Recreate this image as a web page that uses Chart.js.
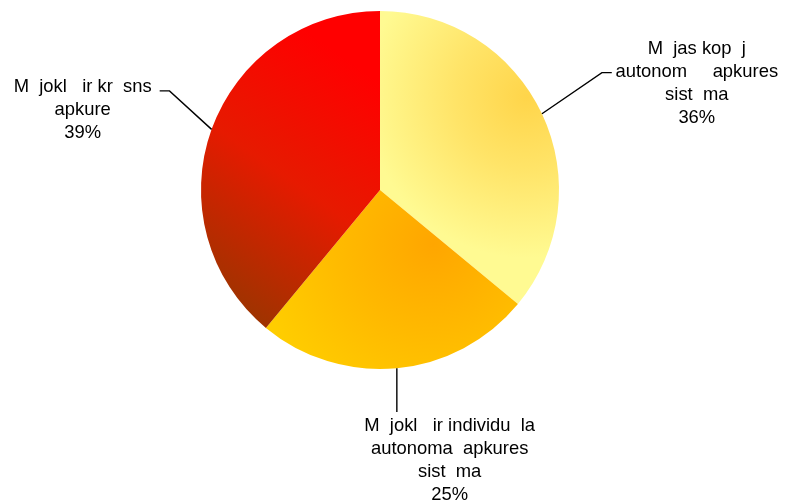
<!DOCTYPE html>
<html>
<head>
<meta charset="utf-8">
<script src="https://cdn.jsdelivr.net/npm/chart.js@4"></script>
<style>
    html, body { margin: 0; padding: 0; background: #fff; }
    #wrap { width: 786px; height: 503px; }
</style>
</head>
<body>
<div id="wrap"><canvas id="pie-chart" width="786" height="503"></canvas></div>
<script>
// --- data ---
const categories = [
    ['M  jas kop  j', 'autonom     apkures', 'sist  ma'],
    ['M  jokl   ir individu  la', 'autonoma  apkures', 'sist  ma'],
    ['M  jokl   ir kr  sns', 'apkure']
];
const shares = [36, 25, 39];
const percentLabels = ['36%', '25%', '39%'];

// gradient stops per slice
const sliceStops = [
    [[0, '#FFD54A'], [0.45, '#FFE468'], [1, '#FFFA92']],
    [[0, '#FFA600'], [0.5, '#FFB900'], [1, '#FFCD00']],
    [[0, '#FF0000'], [0.5, '#E61A00'], [1, '#A03300']]
];

// label placement, relative to the point where the slice's mid-angle meets the rim
// elbow / end of leader and text centre, in units of pie radius
const labelLayout = [
    { elbow: [0.335, -0.23], end: [0.39, -0.23], text: [0.865, -0.36], align: 'center' },
    { elbow: [0, 0.245], end: [0, 0.245], text: [0.295, 0.325], align: 'center' },
    { elbow: [-0.235, -0.215], end: [-0.29, -0.215], text: [-0.72, -0.235], align: 'center' }
];

function sliceGradient(context) {
    const chart = context.chart;
    const area = chart.chartArea;
    const i = context.dataIndex;
    if (!area) return sliceStops[i][0][1];
    const cx = (area.left + area.right) / 2;
    const cy = (area.top + area.bottom) / 2;
    const r = Math.min(area.right - area.left, area.bottom - area.top) / 2;
    let g;
    if (i === 0) {
        g = chart.ctx.createRadialGradient(cx + 0.82 * r, cy - 0.52 * r, 0, cx + 0.82 * r, cy - 0.52 * r, 0.9 * r);
    } else if (i === 1) {
        g = chart.ctx.createRadialGradient(cx + 0.3 * r, cy + 0.3 * r, 0, cx + 0.3 * r, cy + 0.3 * r, r);
    } else {
        g = chart.ctx.createLinearGradient(cx, cy - 0.6 * r, cx - 0.85 * r, cy + 0.6 * r);
    }
    sliceStops[i].forEach(s => g.addColorStop(s[0], s[1]));
    return g;
}

const outsideLabels = {
    id: 'outsideLabels',
    afterDatasetsDraw(chart) {
        const ctx = chart.ctx;
        const meta = chart.getDatasetMeta(0);
        ctx.save();
        ctx.font = '18.4px "Liberation Sans", Arial, sans-serif';
        ctx.fillStyle = '#000';
        ctx.strokeStyle = '#000';
        ctx.lineWidth = 1.4;
        ctx.textBaseline = 'middle';
        const lineH = 23;
        meta.data.forEach((arc, i) => {
            const p = arc.getProps(['x', 'y', 'startAngle', 'endAngle', 'outerRadius'], true);
            const mid = (p.startAngle + p.endAngle) / 2;
            const r = p.outerRadius;
            const ex = p.x + Math.cos(mid) * r;
            const ey = p.y + Math.sin(mid) * r;
            const L = labelLayout[i];
            ctx.beginPath();
            ctx.moveTo(ex, ey);
            ctx.lineTo(ex + L.elbow[0] * r, ey + L.elbow[1] * r);
            ctx.lineTo(ex + L.end[0] * r, ey + L.end[1] * r);
            ctx.stroke();
            const lines = categories[i].concat([percentLabels[i]]);
            const tx = ex + L.text[0] * r;
            const ty = ey + L.text[1] * r;
            ctx.textAlign = L.align;
            lines.forEach((t, k) => ctx.fillText(t, tx, ty + k * lineH));
        });
        ctx.restore();
    }
};

new Chart(document.getElementById('pie-chart'), {
    type: 'pie',
    data: {
        labels: categories.map(c => c.join(' ')),
        datasets: [{
            data: shares,
            backgroundColor: sliceGradient,
            borderWidth: 0
        }]
    },
    options: {
        responsive: false,
        animation: false,
        layout: { padding: { top: 11, bottom: 134, left: 0, right: 26 } },
        plugins: {
            legend: { display: false },
            tooltip: { enabled: false }
        }
    },
    plugins: [outsideLabels]
});
</script>
</body>
</html>
